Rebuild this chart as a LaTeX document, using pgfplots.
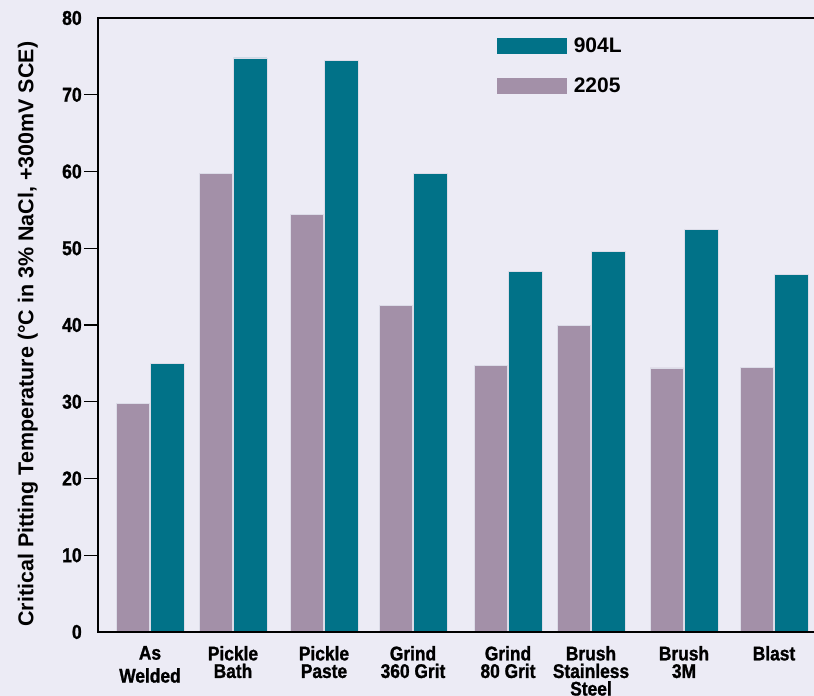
\documentclass[border=0pt]{standalone}
\usepackage{fontspec}
\setmainfont{Liberation Sans}
\newfontfamily\cond[FakeStretch=0.88, BoldFeatures={FakeBold=1.2}]{Liberation Sans}
\usepackage{pgfplots}
\pgfplotsset{compat=1.18}
\definecolor{bg}{HTML}{ECEBF5}
\definecolor{tealc}{HTML}{017288}
\definecolor{mauve}{HTML}{A390A8}
\definecolor{edge}{HTML}{DCDCE8}
\begin{document}
\begin{tikzpicture}
\fill[bg] (0,0) rectangle (610.5pt,522pt);
\begin{axis}[
  at={(73.5pt,48pt)}, anchor=south west,
  scale only axis, width=537pt, height=460.5pt,
  xmin=0.98, xmax=8.14, ymin=0, ymax=80,
  axis line style={draw=none},
  ybar, bar width=0.335,
  ytick={10,20,...,70}, extra y ticks={0,80},
  extra y tick style={tick style={draw=none}},
  ytick pos=left, xtick pos=bottom,
  tick align=outside,
  y tick style={line width=1.1pt, black},
  major tick length=10.5pt,
  x tick style={draw=none},
  xtick={1.50,2.33,3.24,4.13,5.08,5.91,6.84,7.74},
  xticklabels={As\\[4pt]Welded, Pickle\\Bath, Pickle\\Paste, Grind\\360 Grit, Grind\\80 Grit, Brush\\Stainless\\Steel, Brush\\3M, Blast},
  xticklabel style={align=center, font=\cond\bfseries\fontsize{14.8}{13.2}\selectfont, yshift=3.5pt},
  yticklabel style={font=\cond\bfseries\fontsize{15}{17}\selectfont, inner xsep=1.5pt},
  /pgf/number format/assume math mode=true,
  ylabel={Critical Pitting Temperature (°C in 3\% NaCl, +300mV SCE)},
  ylabel style={at={(axis description cs:-0.0978,0.485)}, anchor=center, font=\bfseries\fontsize{16.1}{18}\selectfont},
  legend style={at={(axis description cs:0.557,0.972)}, anchor=north west, draw=none, fill=none, inner sep=0pt, row sep=13pt, column sep=3pt, font=\bfseries\fontsize{15.75}{18}\selectfont, legend cell align=left},
  legend image code/.code={\fill[#1, draw=none] (0pt,-6pt) rectangle (52.5pt,6pt);},
  reverse legend,
  after end axis/.code={\draw[line width=2.2pt, line join=miter] (rel axis cs:1,1) -- (rel axis cs:0,1) -- (rel axis cs:0,0) -- (rel axis cs:1,0);},
]
\addplot[fill=mauve, draw=edge, line width=0.6pt, bar shift=-0.172] coordinates {
 (1.50,29.8) (2.33,59.7) (3.24,54.4) (4.13,42.6) (5.08,34.7) (5.91,39.9) (6.84,34.4) (7.74,34.5)};
\addplot[fill=tealc, draw=edge, line width=0.6pt, bar shift=0.172] coordinates {
 (1.50,35) (2.33,74.8) (3.24,74.5) (4.13,59.7) (5.08,47) (5.91,49.6) (6.84,52.4) (7.74,46.6)};
\legend{2205, 904L}
\end{axis}
\pgfresetboundingbox
\useasboundingbox (0,0) rectangle (610.5pt,522pt);
\end{tikzpicture}
\end{document}
